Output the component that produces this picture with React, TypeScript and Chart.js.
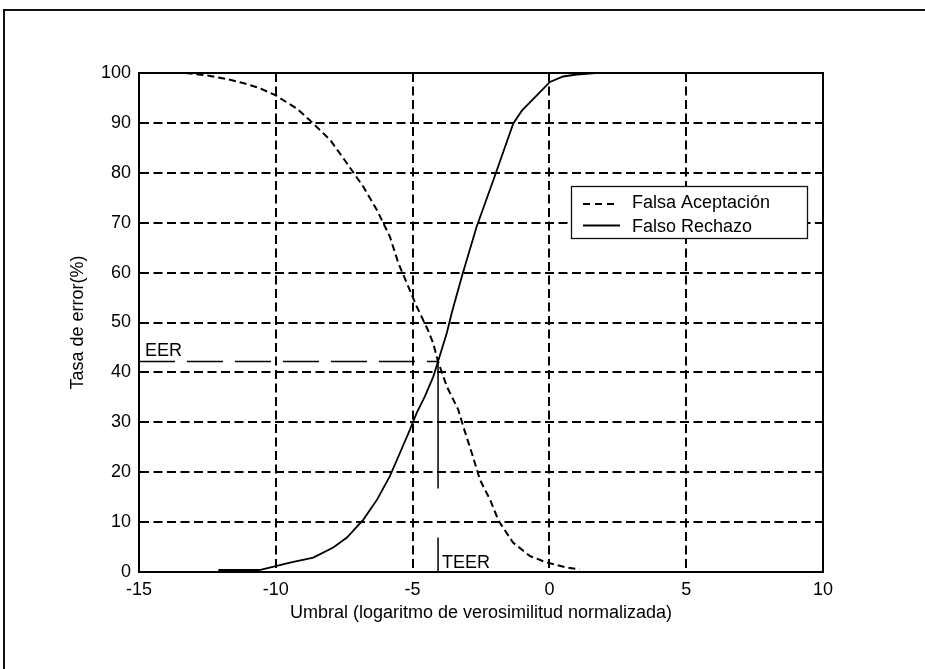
import React, { useEffect, useRef } from "react";
import { Chart, registerables } from "chart.js";

Chart.register(...registerables);

// ---- Data ----
const seriesLabels = ["Falsa Aceptación", "Falso Rechazo"];

const faX = [-13.3, -12.5, -11.8, -11.2, -10.6, -10.0, -9.24, -8.75, -8.0, -7.4, -6.8, -6.3, -5.83, -5.52, -4.85, -4.44, -4.25, -4.07, -3.75, -3.33, -3.15, -2.8, -2.54, -2.17, -1.85, -1.33, -0.71, -0.1, 0.63, 1.1];
const faY = [100, 99.5, 98.8, 98, 97, 95.5, 92.9, 90.5, 86.5, 81.9, 77.2, 72.5, 67.2, 61.9, 53.2, 48.5, 45.9, 42.2, 37.2, 32.5, 29.2, 23.2, 18.5, 14.5, 10.2, 5.9, 3.2, 1.9, 0.9, 0.5];

const frX = [-12.1, -10.6, -10.0, -9.48, -8.63, -7.9, -7.4, -6.8, -6.3, -5.83, -5.46, -5.1, -4.85, -4.55, -4.24, -4.07, -3.75, -3.57, -3.2, -2.66, -2.05, -1.32, -1.0, -0.46, 0.02, 0.5, 1.0, 1.7];
const frY = [0.4, 0.4, 1.2, 1.9, 2.9, 4.9, 6.9, 10.5, 14.5, 19.2, 23.9, 28.5, 31.9, 35.2, 39.2, 42.2, 47.9, 51.9, 59.2, 69.2, 78.5, 89.9, 92.5, 95.5, 98.2, 99.3, 99.7, 100];

const eerValue = 42.2;
const teerThreshold = -4.07;

const xMin = -15, xMax = 10, xStep = 5;
const yMin = 0, yMax = 100, yStep = 10;

const xTitle = "Umbral (logaritmo de verosimilitud normalizada)";
const yTitle = "Tasa de error(%)";

const FONT = '"Liberation Sans", Arial, Helvetica, sans-serif';

const toPts = (xs: number[], ys: number[]) => xs.map((x, i) => ({ x, y: ys[i] }));

const overlayPlugin = {
  id: "overlay",
  afterDatasetsDraw(chart: any) {
    const { ctx, chartArea, scales } = chart;
    const xs = scales.x, ys = scales.y;
    ctx.save();
    // annotation labels
    ctx.font = `18px ${FONT}`;
    ctx.fillStyle = "#000";
    ctx.textAlign = "left";
    ctx.textBaseline = "alphabetic";
    ctx.fillText("EER", chartArea.left + 6, ys.getPixelForValue(eerValue) - 5);
    ctx.fillText("TEER", xs.getPixelForValue(teerThreshold) + 4, chartArea.bottom - 4);

    // plot frame
    ctx.lineWidth = 2;
    ctx.strokeStyle = "#000";
    ctx.setLineDash([]);
    ctx.strokeRect(chartArea.left, chartArea.top, chartArea.right - chartArea.left, chartArea.bottom - chartArea.top);

    // legend box
    const lx = chartArea.left + 432, ly = chartArea.top + 113, lw = 236, lh = 52;
    ctx.fillStyle = "#fff";
    ctx.fillRect(lx, ly, lw, lh);
    ctx.lineWidth = 1.3;
    ctx.strokeStyle = "#111";
    ctx.strokeRect(lx + 0.5, ly + 0.5, lw, lh);

    // sample lines
    ctx.lineWidth = 1.8;
    ctx.strokeStyle = "#000";
    ctx.setLineDash([7, 5]);
    ctx.beginPath();
    ctx.moveTo(lx + 12, ly + 18);
    ctx.lineTo(lx + 47, ly + 18);
    ctx.stroke();
    ctx.setLineDash([]);
    ctx.beginPath();
    ctx.moveTo(lx + 12, ly + 39.5);
    ctx.lineTo(lx + 49, ly + 39.5);
    ctx.stroke();

    ctx.fillStyle = "#000";
    ctx.font = `18px ${FONT}`;
    ctx.fillText(seriesLabels[0], lx + 61, ly + 22);
    ctx.fillText(seriesLabels[1], lx + 61, ly + 46);
    ctx.restore();
  },
};

export default function App() {
  const canvasRef = useRef<HTMLCanvasElement | null>(null);

  useEffect(() => {
    document.body.style.margin = "0";
    const canvas = canvasRef.current;
    if (!canvas) return;
    const chart = new Chart(canvas, {
      type: "line",
      data: {
        datasets: [
          {
            label: seriesLabels[0],
            data: toPts(faX, faY),
            borderColor: "#000",
            borderWidth: 2,
            borderDash: [7, 4],
            pointRadius: 0,
            fill: false,
            tension: 0,
          },
          {
            label: seriesLabels[1],
            data: toPts(frX, frY),
            borderColor: "#000",
            borderWidth: 1.8,
            pointRadius: 0,
            fill: false,
            tension: 0,
          },
          {
            label: "EER",
            data: [
              { x: xMin, y: eerValue },
              { x: teerThreshold, y: eerValue },
            ],
            borderColor: "#000",
            borderWidth: 1.5,
            borderDash: [36, 12],
            pointRadius: 0,
            fill: false,
          },
          {
            label: "TEER",
            data: [
              { x: teerThreshold, y: eerValue },
              { x: teerThreshold, y: yMin },
            ],
            borderColor: "#000",
            borderWidth: 1.5,
            borderDash: [127, 49],
            pointRadius: 0,
            fill: false,
          },
        ],
      },
      options: {
        animation: false,
        responsive: true,
        maintainAspectRatio: false,
        layout: { padding: { top: 73, right: 102, left: 0, bottom: 0 } },
        plugins: {
          legend: { display: false },
          tooltip: { enabled: false },
        },
        scales: {
          x: {
            type: "linear",
            min: xMin,
            max: xMax,
            ticks: {
              stepSize: xStep,
              color: "#000",
              padding: 7,
              font: { family: FONT, size: 18 },
            },
            grid: { color: "#000", lineWidth: 2, drawTicks: false },
            border: { display: true, color: "#000", width: 2, dash: [9, 4.5] },
            title: {
              display: true,
              text: xTitle,
              color: "#000",
              font: { family: FONT, size: 18 },
              padding: { top: 0, bottom: 45 },
            },
            afterFit(scale: any) {
              scale.height = 97;
            },
          },
          y: {
            type: "linear",
            min: yMin,
            max: yMax,
            ticks: {
              stepSize: yStep,
              color: "#000",
              padding: 8,
              font: { family: FONT, size: 18 },
            },
            grid: { color: "#000", lineWidth: 2, drawTicks: false },
            border: { display: true, color: "#000", width: 2, dash: [9, 4.5] },
            title: {
              display: true,
              text: yTitle,
              color: "#000",
              font: { family: FONT, size: 18 },
              padding: { top: 67, bottom: 0 },
            },
            afterFit(scale: any) {
              scale.width = 139;
            },
          },
        },
      },
      plugins: [overlayPlugin],
    });
    return () => chart.destroy();
  }, []);

  return (
    <div style={{ position: "relative", width: 925, height: 669, background: "#fff", overflow: "hidden" }}>
      <div style={{ position: "absolute", left: 3, top: 9, width: 922, height: 2, background: "#111" }} />
      <div style={{ position: "absolute", left: 3, top: 9, width: 2, height: 660, background: "#111" }} />
      <canvas ref={canvasRef} style={{ position: "absolute", left: 0, top: 0, width: 925, height: 669 }} />
    </div>
  );
}
